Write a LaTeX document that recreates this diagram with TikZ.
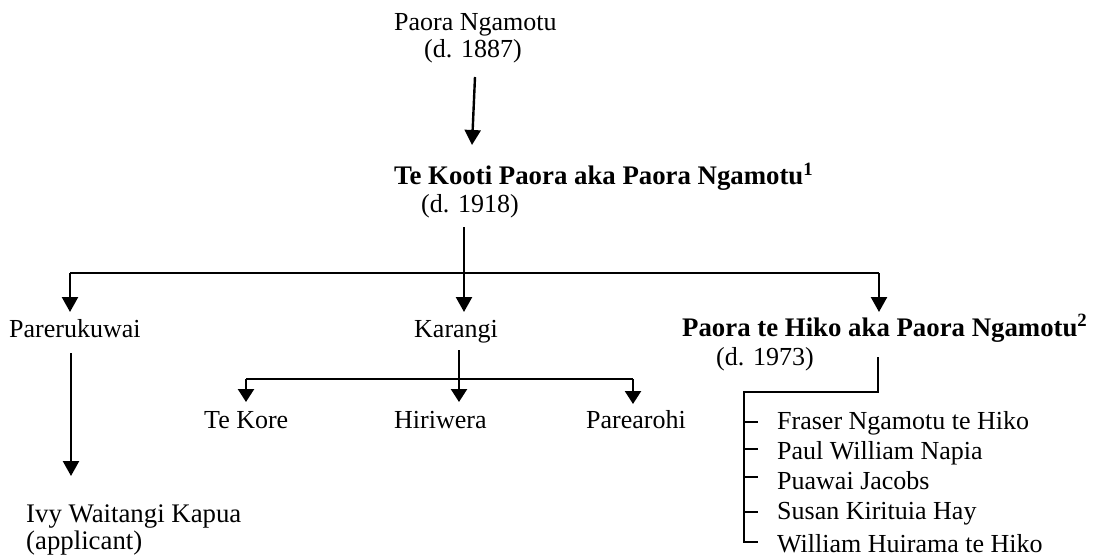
\documentclass[tikz,border=0pt]{standalone}
\usepackage{fontspec}
\setmainfont{Liberation Serif}
\usetikzlibrary{arrows.meta}
\tikzset{
  lbl/.style={inner sep=0pt, anchor=base west, font=\fontsize{26}{30}\selectfont},
  biglbl/.style={lbl, font=\fontsize{26.8}{30}\selectfont},
  bold/.style={lbl, font=\fontsize{26.8}{30}\selectfont\bfseries},
  link/.style={line width=1.3pt},
  arr/.style={line width=2.4pt, -{Triangle[width=16pt,length=15pt]}},
  sarr/.style={line width=2.4pt, -{Triangle[width=16pt,length=13pt]}},
}
\begin{document}
\begin{tikzpicture}[x=1pt,y=-1pt]
\path[use as bounding box] (0,0) rectangle (1093,559);

% texts
\node[lbl] (pn) at (394,31) {Paora Ngamotu};
\node[lbl] (pnd) at (424,58) {(d. 1887)};
\node[bold] (tk) at (394,185) {Te Kooti Paora aka Paora Ngamotu\textsuperscript{1}};
\node[lbl] (tkd) at (421,212) {(d. 1918)};
\node[lbl] (par) at (9,337) {Parerukuwai};
\node[lbl] (kar) at (414,337) {Karangi};
\node[bold] (pth) at (682,336) {Paora te Hiko aka Paora Ngamotu\textsuperscript{2}};
\node[lbl] (pthd) at (716,365) {(d. 1973)};
\node[biglbl] (ivy) at (26,522) {Ivy Waitangi Kapua};
\node[biglbl] (app) at (26,549) {(applicant)};
\node[lbl] (tek) at (204,428) {Te Kore};
\node[lbl] (hir) at (394,428) {Hiriwera};
\node[lbl] (pae) at (586,428) {Parearohi};
\node[lbl] (c1) at (777,429) {Fraser Ngamotu te Hiko};
\node[lbl] (c2) at (777,459) {Paul William Napia};
\node[lbl] (c3) at (777,489) {Puawai Jacobs};
\node[lbl] (c4) at (777,519) {Susan Kirituia Hay};
\node[lbl] (c5) at (777,552) {William Huirama te Hiko};

% connector points
\coordinate (a0) at (475,77);
\coordinate (a1) at (472,145);
\coordinate (t0) at (464,227);
\coordinate (tj) at (464,273);
\coordinate (hl) at (70,273);
\coordinate (hr) at (879,273);
\coordinate (parTip) at (70,312);
\coordinate (karTip) at (464,312);
\coordinate (pthTip) at (879,312);
\coordinate (ivy0) at (71,353);
\coordinate (ivyTip) at (71,476);
\coordinate (k0) at (459,350);
\coordinate (kj) at (459,379);
\coordinate (kl) at (246,379);
\coordinate (kr) at (633,379);
\coordinate (tekTip) at (246,402);
\coordinate (hirTip) at (459,402);
\coordinate (paeTip) at (633,404);
\coordinate (p0) at (878,357);
\coordinate (pc) at (878,392);
\coordinate (bt) at (744,392);
\coordinate (bb) at (744,542);
\coordinate (bh) at (758,542);

% Paora Ngamotu -> Te Kooti
\draw[arr] (a0) -- (a1);

% Te Kooti -> children
\draw[link] (t0) -- (tj);
\draw[link] (hl) -- (hr);
\draw[arr] (hl) -- (parTip);
\draw[arr] (tj) -- (karTip);
\draw[arr] (hr) -- (pthTip);

% Parerukuwai -> Ivy
\draw[arr] (ivy0) -- (ivyTip);

% Karangi -> children
\draw[link] (k0) -- (kj);
\draw[link] (kl) -- (kr);
\draw[sarr] (kl) -- (tekTip);
\draw[sarr] (kj) -- (hirTip);
\draw[sarr] (kr) -- (paeTip);

% Paora te Hiko -> children bracket
\draw[link] (p0) -- (pc) -- (bt) -- (bb) -- (bh);
\foreach \yy in {422,449,477,512} {
  \draw[link] (744,\yy) -- (758,\yy);
}
\end{tikzpicture}
\end{document}
